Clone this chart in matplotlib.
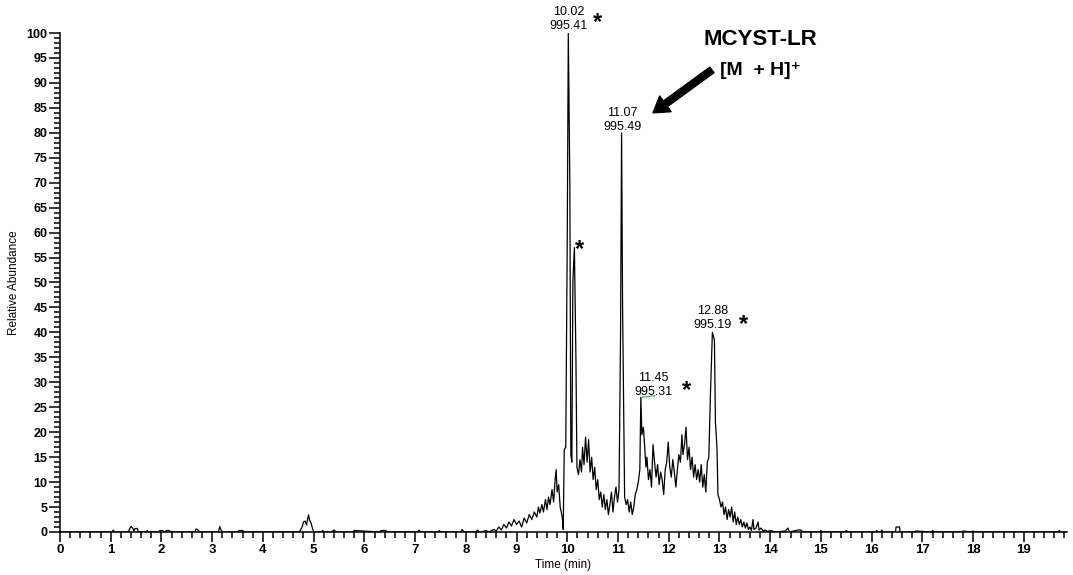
import matplotlib
matplotlib.use('Agg')
import matplotlib.pyplot as plt
from matplotlib.ticker import MultipleLocator

plt.rcParams['font.family'] = ['Liberation Sans', 'DejaVu Sans']

# chromatogram trace (time in min, relative abundance in %)
time_min = [
    0.00, 1.03, 1.05, 1.07, 1.35, 1.37, 1.40, 1.43, 1.46, 1.48, 1.52, 1.55,
    1.70, 1.72, 1.74, 1.95, 1.97, 2.02, 2.06, 2.10, 2.15, 2.20, 2.66, 2.68,
    2.72, 2.75, 3.12, 3.15, 3.17, 3.20, 3.50, 3.53, 3.60, 3.63, 4.70, 4.74,
    4.78, 4.80, 4.83, 4.86, 4.88, 4.90, 4.92, 4.95, 4.98, 5.00, 5.15, 5.18,
    5.20, 5.35, 5.40, 5.45, 5.78, 5.80, 6.30, 6.33, 6.42, 6.45, 6.48, 7.05,
    7.08, 7.10, 7.45, 7.48, 7.50, 7.90, 7.93, 7.96, 8.20, 8.23, 8.26,
    8.30, 8.40, 8.45, 8.55, 8.60, 8.65, 8.70, 8.75, 8.80, 8.85, 8.90, 8.95,
    9.00, 9.05, 9.10, 9.15, 9.20, 9.25, 9.30, 9.35, 9.40, 9.43, 9.46, 9.50,
    9.53, 9.57, 9.60, 9.63, 9.66, 9.70, 9.73, 9.76, 9.78, 9.80, 9.83, 9.86,
    9.90, 9.92, 9.94, 9.97, 10.00, 10.02, 10.05, 10.07, 10.09, 10.11, 10.14,
    10.17, 10.19, 10.22, 10.25, 10.28, 10.30, 10.33, 10.36, 10.39, 10.42,
    10.45, 10.48, 10.51, 10.54, 10.57, 10.60, 10.63, 10.66, 10.69, 10.72,
    10.75, 10.78, 10.81, 10.84, 10.87, 10.90, 10.93, 10.96, 10.99, 11.02,
    11.05, 11.07, 11.09, 11.11, 11.13, 11.16, 11.19, 11.22, 11.25, 11.28,
    11.31, 11.34, 11.37, 11.40, 11.43, 11.45, 11.47, 11.50, 11.52, 11.55,
    11.57, 11.60, 11.63, 11.66, 11.69, 11.72, 11.75, 11.78, 11.81, 11.84,
    11.87, 11.90, 11.93, 11.96, 11.99, 12.02, 12.05, 12.08, 12.11, 12.14,
    12.17, 12.20, 12.23, 12.26, 12.28, 12.31, 12.34, 12.37, 12.40, 12.43,
    12.46, 12.49, 12.52, 12.55, 12.58, 12.61, 12.64, 12.67, 12.70, 12.73,
    12.76, 12.79, 12.82, 12.86, 12.90, 12.92, 12.95, 12.97, 13.00, 13.03,
    13.06, 13.09, 13.12, 13.15, 13.18, 13.21, 13.24, 13.27, 13.30, 13.33,
    13.36, 13.39, 13.42, 13.45, 13.48, 13.51, 13.54, 13.57, 13.60, 13.63,
    13.66, 13.68, 13.72, 13.76, 13.78, 13.82, 13.86, 13.90, 13.95, 14.00,
    14.10, 14.30, 14.35, 14.38, 14.55, 14.60, 14.65, 14.98, 15.00, 15.03,
    15.48, 15.50, 15.53, 16.08, 16.10, 16.12, 16.18, 16.20, 16.22, 16.47,
    16.48, 16.55, 16.56, 16.85, 16.87, 17.18, 17.20, 17.23, 17.78, 17.80,
    17.98, 18.00, 18.02, 19.68, 19.70, 19.72, 19.83,
]
abundance = [
    0.0, 0.0, 0.4, 0.0, 0.0, 0.6, 1.1, 0.8, 0.2, 0.7, 0.7, 0.0,
    0.0, 0.3, 0.0, 0.0, 0.3, 0.3, 0.0, 0.3, 0.3, 0.0, 0.0, 0.6,
    0.4, 0.0, 0.0, 1.1, 0.5, 0.0, 0.0, 0.3, 0.3, 0.0, 0.0, 0.3,
    1.2, 2.0, 2.2, 1.4, 2.5, 3.4, 2.4, 1.8, 0.6, 0.0, 0.0, 0.3,
    0.0, 0.0, 0.4, 0.0, 0.0, 0.3, 0.0, 0.3, 0.3, 0.0, 0.0, 0.0,
    0.4, 0.0, 0.0, 0.3, 0.0, 0.0, 0.5, 0.0, 0.0, 0.4, 0.0,
    0.0, 0.3, 0.0, 0.5, 0.2, 1.0, 0.4, 1.5, 0.8, 2.0, 1.2, 2.5,
    1.5, 2.2, 1.0, 2.8, 1.8, 3.5, 2.5, 4.0, 3.0, 5.0, 3.8, 5.5,
    4.0, 6.5, 4.5, 7.0, 5.5, 8.5, 6.0, 10.5, 12.5, 8.0, 9.5, 5.0,
    3.0, 0.5, 16.5, 17.0, 60.0, 100.0, 70.0, 15.5, 14.0, 50.0, 57.0,
    35.0, 13.0, 11.5, 14.5, 12.0, 17.0, 13.5, 19.0, 14.0, 18.5,
    12.0, 15.0, 10.5, 13.0, 8.5, 10.5, 6.5, 8.0, 5.0, 7.5,
    4.5, 6.5, 3.5, 5.5, 8.0, 4.0, 7.0, 9.0, 6.0, 8.5,
    40.0, 80.0, 45.0, 25.0, 7.0, 5.5, 6.5, 4.0, 6.0, 3.5,
    5.0, 7.5, 8.5, 10.0, 12.5, 27.0, 19.5, 21.0, 18.0, 13.0,
    15.0, 10.5, 12.5, 9.0, 17.5, 14.0, 11.0, 13.5, 9.5, 12.0,
    10.5, 7.5, 12.5, 14.0, 18.0, 13.0, 11.0, 14.5, 12.0, 9.0,
    12.5, 15.5, 14.0, 19.5, 15.5, 17.5, 21.0, 14.5, 17.0, 12.5,
    15.0, 11.0, 13.5, 10.5, 12.5, 10.0, 13.5, 9.0, 11.5, 8.0,
    14.0, 15.0, 27.0, 40.0, 38.5, 22.0, 17.0, 7.5, 6.5, 5.0,
    6.0, 3.5, 5.0, 2.5, 4.5, 3.0, 5.0, 2.0, 4.0, 1.5,
    3.0, 1.5, 2.5, 1.0, 2.0, 0.8, 1.8, 0.5, 1.0, 0.3,
    2.5, 0.5, 0.8, 2.0, 0.4, 0.8, 0.2, 0.4, 0.1, 0.3,
    0.0, 0.2, 0.8, 0.0, 0.4, 0.4, 0.0, 0.0, 0.3, 0.0,
    0.0, 0.3, 0.0, 0.0, 0.3, 0.0, 0.0, 0.4, 0.0, 0.0,
    1.0, 1.0, 0.0, 0.0, 0.2, 0.0, 0.3, 0.0, 0.0, 0.2,
    0.0, 0.2, 0.0, 0.0, 0.3, 0.0, 0.0,
]

# peak annotations: retention time / m/z
peak_rt = ['10.02', '11.07', '11.45', '12.88']
peak_mz = ['995.41', '995.49', '995.31', '995.19']
label_x = [10.02, 11.08, 11.69, 12.87]
label_y = [104.2, 84.0, 30.9, 44.3]
star_x = [10.60, 10.25, 13.48, 12.34]
star_y = [103.6, 58.1, 43.1, 29.9]

fig = plt.figure(figsize=(10.73, 5.75), dpi=100)
ax = fig.add_axes([0.0559, 0.0748, 0.9385, 0.8678])

ax.plot(time_min, abundance, color='black', linewidth=0.9)
# small green segment under the 11.45 label
ax.plot([11.47, 11.73], [27.0, 27.3], color='#44bb44', linewidth=0.9)

ax.set_xlim(0, 19.85)
ax.set_ylim(0, 100)
for side in ['top', 'right']:
    ax.spines[side].set_visible(False)
for side in ['left', 'bottom']:
    ax.spines[side].set_linewidth(1.1)

ax.xaxis.set_major_locator(MultipleLocator(1))
ax.xaxis.set_minor_locator(MultipleLocator(0.2))
ax.yaxis.set_major_locator(MultipleLocator(5))
ax.yaxis.set_minor_locator(MultipleLocator(1))
ax.tick_params(axis='x', which='major', length=7, width=1.1, pad=2, labelsize=9.5)
ax.tick_params(axis='x', which='minor', length=4, width=1.1)
ax.tick_params(axis='y', which='major', length=8, width=1.1, pad=1, labelsize=9)
ax.tick_params(axis='y', which='minor', length=4, width=1.1)
for lab in ax.get_xticklabels() + ax.get_yticklabels():
    lab.set_fontweight('bold')

ax.set_xlabel('Time (min)', fontsize=8.5, labelpad=2)
ax.set_ylabel('Relative Abundance', fontsize=8.5, labelpad=5)

for rt, mz, x, y in zip(peak_rt, peak_mz, label_x, label_y):
    ax.text(x, y, rt, ha='center', va='center', fontsize=9, clip_on=False)
    ax.text(x, y - 2.8, mz, ha='center', va='center', fontsize=9, clip_on=False)
for x, y in zip(star_x, star_y):
    ax.text(x, y - 1.5, '*', ha='center', va='center', fontsize=17,
            fontweight='bold', clip_on=False)

ax.text(13.80, 98.6, 'MCYST-LR', ha='center', va='center', fontsize=16,
        fontweight='bold', clip_on=False)
ax.text(13.80, 92.4, '[M  + H]\u207a', ha='center', va='center',
        fontsize=14, fontweight='bold', clip_on=False)
ax.annotate('', xy=(11.69, 84.0), xytext=(12.85, 92.6),
            arrowprops=dict(arrowstyle='simple,head_length=1.1,head_width=1.4,tail_width=0.5',
                            color='black', shrinkA=0, shrinkB=0),
            annotation_clip=False)

fig.savefig('out.png', dpi=100)
